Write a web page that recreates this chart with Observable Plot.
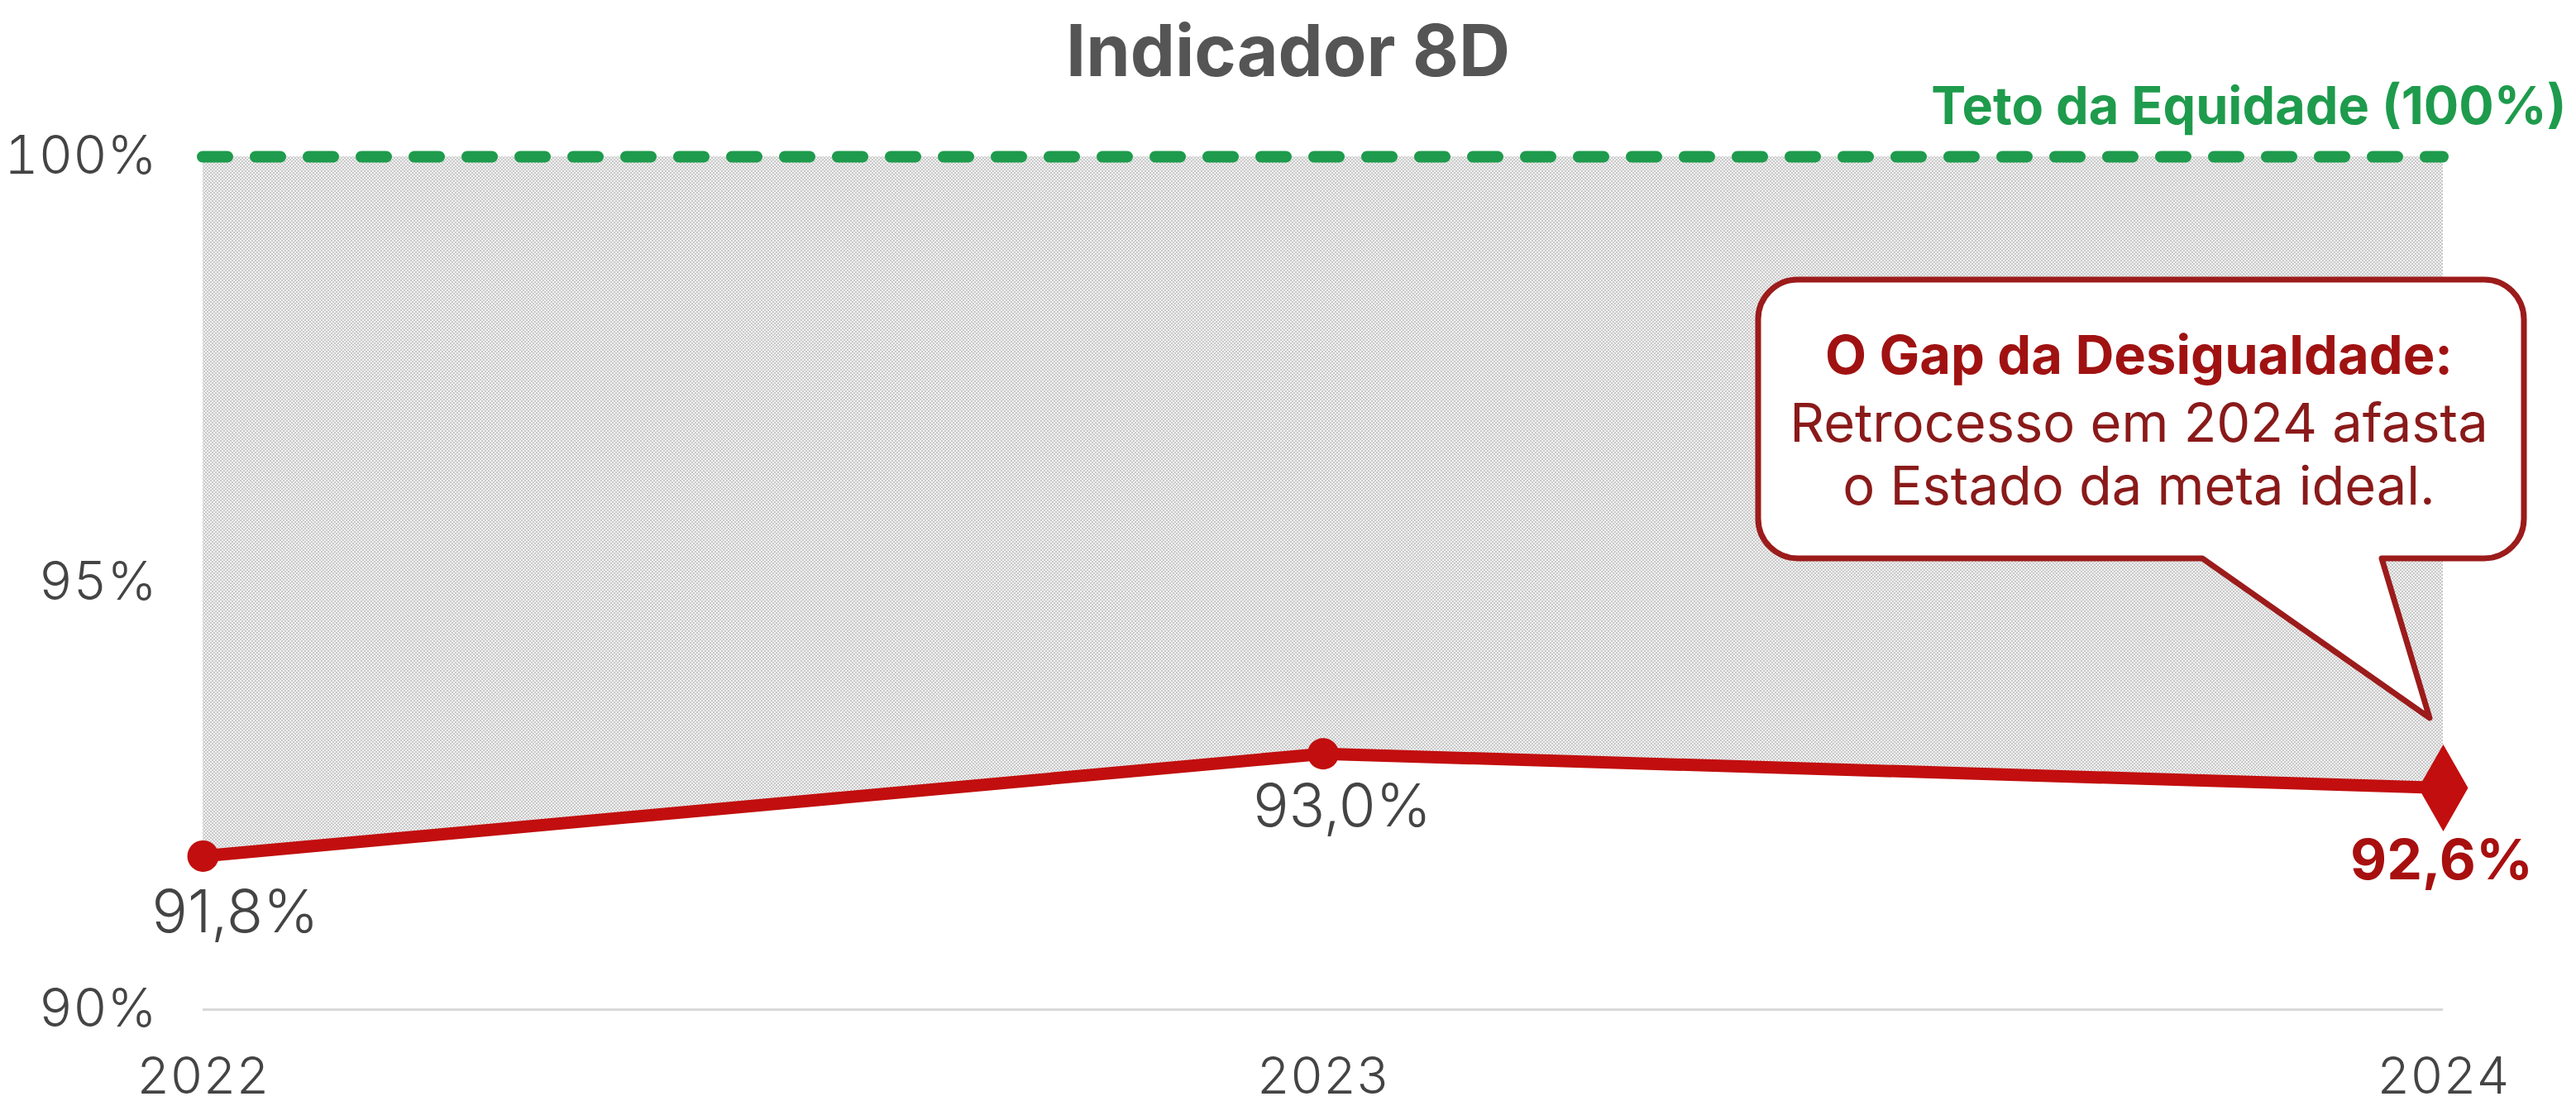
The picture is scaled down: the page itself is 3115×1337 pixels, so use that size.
<!DOCTYPE html>
<html>
<head>
<meta charset="utf-8">
<script src="https://cdn.jsdelivr.net/npm/d3@7"></script>
<script src="https://cdn.jsdelivr.net/npm/@observablehq/plot@0.6"></script>
<style>
  html, body { margin: 0; padding: 0; background: #fff; }
  #title { height: 110px; line-height: 122px; text-align: center; font-family: Inter, "Open Sans", sans-serif; font-weight: 700; font-size: 86px; color: #555; }
</style>
</head>
<body>
<div id="title"></div>
<div id="chart"></div>
<script>
const chartTitle = "Indicador 8D";
const years = [2022, 2023, 2024];
const values = [91.8, 93.0, 92.6];
const valueLabels = ["91,8%", "93,0%", "92,6%"];
const xTicks = [2022, 2023, 2024];
const yTicks = [90, 95, 100];
const ceiling = 100;
const ceilingLabel = "Teto da Equidade (100%)";
const calloutTitle = "O Gap da Desigualdade:";
const calloutBody = ["Retrocesso em 2024 afasta", "o Estado da meta ideal."];

document.getElementById("title").textContent = chartTitle;

const data = years.map((year, i) => ({year, value: values[i], label: valueLabels[i], ceiling}));
const last = data[data.length - 1];

const RED = "#c20e0e";
const GREEN = "#1e9b4c";
const FONT = "Inter, 'Open Sans', sans-serif";

const tallDiamond = {
  draw(ctx, size) {
    const r = Math.sqrt(size / Math.PI);
    const w = r, h = r * 1.75;
    ctx.moveTo(0, -h); ctx.lineTo(w, 0); ctx.lineTo(0, h); ctx.lineTo(-w, 0); ctx.closePath();
  }
};

function callout(index, scales) {
  const px = scales.x(last.year), py = scales.y(last.value);
  const L = px - 828, R = px + 98, T = py - 614, B = py - 277, rad = 48;
  const bl = px - 291, br = px - 74, tx = px - 16, ty = py - 84;
  const d = `M${L + rad},${T} H${R - rad} A${rad},${rad} 0 0 1 ${R},${T + rad} V${B - rad} A${rad},${rad} 0 0 1 ${R - rad},${B} H${br} L${tx},${ty} L${bl},${B} H${L + rad} A${rad},${rad} 0 0 1 ${L},${B - rad} V${T + rad} A${rad},${rad} 0 0 1 ${L + rad},${T} Z`;
  const g = d3.create("svg:g");
  g.append("path").attr("d", d).attr("fill", "#fff").attr("stroke", "#9c1b1b").attr("stroke-width", 7).attr("stroke-linejoin", "round");
  return g.node();
}

const svg = Plot.plot({
  width: 3115,
  height: 1227,
  marginTop: 79,
  marginBottom: 117,
  marginLeft: 245,
  marginRight: 161,
  style: {fontFamily: FONT, background: "#fff", overflow: "visible"},
  x: {domain: [2022, 2024], label: null},
  y: {domain: [90, 100], label: null},
  marks: [
    Plot.areaY(data, {x: "year", y1: "ceiling", y2: "value", fill: "url(#dots)"}),
    Plot.ruleY([90], {stroke: "#d9d9d9", strokeWidth: 3}),
    Plot.ruleY([ceiling], {stroke: GREEN, strokeWidth: 14, strokeDasharray: "30,34", strokeLinecap: "round"}),
    Plot.line(data, {x: "year", y: "value", stroke: RED, strokeWidth: 15, strokeLinejoin: "round"}),
    Plot.dot(data.slice(0, 2), {x: "year", y: "value", r: 19, fill: RED}),
    Plot.dot([last], {x: "year", y: "value", r: 30, fill: RED, symbol: tallDiamond}),
    Plot.text([data[0]], {x: "year", y: "value", text: "label", dx: 39, dy: 69, fontSize: 72, fontWeight: 300, fill: "#444"}),
    Plot.text([data[1]], {x: "year", y: "value", text: "label", dx: 23, dy: 65, fontSize: 72, fontWeight: 300, fill: "#444"}),
    Plot.text([last], {x: "year", y: "value", text: "label", dx: -2, dy: 89, fontSize: 68, fontWeight: 700, fill: "#a80f0f"}),
    Plot.text([last], {x: "year", y: "ceiling", text: () => ceilingLabel, dx: 149, dy: -60, textAnchor: "end", fontSize: 63, fontWeight: 700, fill: GREEN}),
    callout,
    Plot.text([last], {x: "year", y: "value", text: () => calloutTitle, dx: -368, dy: -521, fontSize: 65, fontWeight: 700, fill: "#a01212"}),
    Plot.text([last], {x: "year", y: "value", text: () => calloutBody.join("\n"), dx: -368, dy: -405, lineHeight: 1.18, fontSize: 65, fontWeight: 400, fill: "#8a1a1a"}),
    Plot.axisY({ticks: yTicks, tickFormat: d => d + "%", tickSize: 0, tickPadding: 56, fontSize: 64, fontWeight: 300, color: "#444", label: null}),
    Plot.axisX({ticks: xTicks, tickFormat: d => String(d), tickSize: 0, tickPadding: 57, fontSize: 62, fontWeight: 300, color: "#444", label: null})
  ]
});

const defs = d3.select(svg).insert("defs", ":first-child");
const pat = defs.append("pattern").attr("id", "dots").attr("patternUnits", "userSpaceOnUse").attr("width", 4).attr("height", 4);
pat.append("rect").attr("width", 4).attr("height", 4).attr("fill", "#f1f1f1");
pat.append("rect").attr("width", 2).attr("height", 2).attr("fill", "#c9c9c9");
pat.append("rect").attr("x", 2).attr("y", 2).attr("width", 2).attr("height", 2).attr("fill", "#c9c9c9");

document.getElementById("chart").appendChild(svg);
</script>
</body>
</html>
